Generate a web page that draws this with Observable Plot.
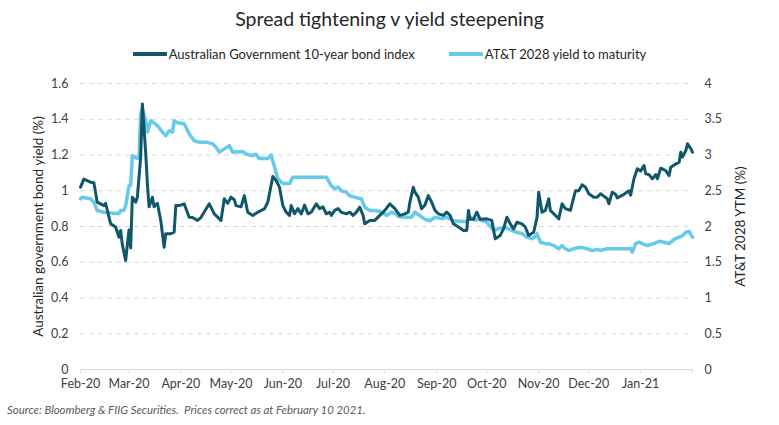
<!DOCTYPE html>
<html>
<head>
<meta charset="utf-8">
<script src="https://cdn.jsdelivr.net/npm/d3@7"></script>
<script src="https://cdn.jsdelivr.net/npm/@observablehq/plot@0.6"></script>
<style>
  body { margin: 0; background: #fff; font-family: Lato, "Open Sans", sans-serif; }
  #wrap { width: 779px; }
  .title { height: 38px; line-height: 38px; text-align: center; font-size: 19.5px; color: #262626; }
  .legend { height: 32px; display: flex; justify-content: center; align-items: center; font-size: 13px; color: #262626; gap: 0; }
  .legend .item { display: flex; align-items: center; margin: 0 17px; }
  .legend svg { margin-right: 2px; }
  .caption { height: 22px; line-height: 22px; font-size: 11.4px; font-style: italic; color: #595959; padding-left: 7px; }
</style>
</head>
<body>
<div id="wrap">
  <div class="title">Spread tightening v yield steepening</div>
  <div class="legend" id="legend"></div>
  <div id="chart"></div>
  <div class="caption">Source: Bloomberg &amp; FIIG Securities.&nbsp; Prices correct as at February 10 2021.</div>
</div>
<script>
// ---- data ----
const SERIES_NAMES = ["Australian Government 10-year bond index", "AT&T 2028 yield to maturity"];
const AXIS_TITLES = ["Australian government bond yield (%)", "AT&T 2028 YTM (%)"];
const SERIES_COLORS = ["#115769", "#67c9ec"];

const AU_DATES = ["2020-02-01","2020-02-03","2020-02-07","2020-02-09","2020-02-11","2020-02-15","2020-02-16","2020-02-19","2020-02-22","2020-02-24","2020-02-25","2020-02-26","2020-02-28",
"2020-03-01","2020-03-02","2020-03-03","2020-03-05","2020-03-06","2020-03-08","2020-03-09","2020-03-11","2020-03-12","2020-03-13","2020-03-15","2020-03-16","2020-03-18","2020-03-20","2020-03-22","2020-03-23","2020-03-26","2020-03-28","2020-03-29","2020-03-31",
"2020-04-03","2020-04-06","2020-04-08","2020-04-11","2020-04-13","2020-04-18","2020-04-21","2020-04-25","2020-04-27","2020-04-29",
"2020-05-01","2020-05-03","2020-05-04","2020-05-07","2020-05-09","2020-05-11","2020-05-14","2020-05-17","2020-05-21","2020-05-23","2020-05-26","2020-05-28","2020-05-30",
"2020-06-01","2020-06-03","2020-06-05","2020-06-06","2020-06-08","2020-06-10","2020-06-12","2020-06-14","2020-06-16","2020-06-18","2020-06-21","2020-06-23","2020-06-25","2020-06-27","2020-06-29","2020-06-30",
"2020-07-02","2020-07-04","2020-07-06","2020-07-09","2020-07-11","2020-07-13","2020-07-15","2020-07-17","2020-07-19","2020-07-20","2020-07-23","2020-07-26","2020-07-29",
"2020-08-01","2020-08-04","2020-08-07","2020-08-10","2020-08-13","2020-08-15","2020-08-16","2020-08-18","2020-08-19","2020-08-21","2020-08-23","2020-08-25","2020-08-27","2020-08-29","2020-08-31",
"2020-09-02","2020-09-05","2020-09-07","2020-09-09","2020-09-11","2020-09-14","2020-09-17","2020-09-19","2020-09-20","2020-09-21","2020-09-23","2020-09-25","2020-09-27",
"2020-10-01","2020-10-04","2020-10-06","2020-10-09","2020-10-11","2020-10-13","2020-10-15","2020-10-17","2020-10-19","2020-10-22","2020-10-24","2020-10-26","2020-10-29","2020-10-31",
"2020-11-01","2020-11-03","2020-11-05","2020-11-07","2020-11-08","2020-11-11","2020-11-13","2020-11-15","2020-11-17","2020-11-20","2020-11-23","2020-11-25","2020-11-27","2020-11-29",
"2020-12-01","2020-12-04","2020-12-06","2020-12-08","2020-12-10","2020-12-12","2020-12-13","2020-12-15","2020-12-17","2020-12-18","2020-12-20","2020-12-22","2020-12-25","2020-12-26","2020-12-28","2020-12-30",
"2021-01-01","2021-01-03","2021-01-04","2021-01-06","2021-01-08","2021-01-10","2021-01-11","2021-01-13","2021-01-16","2021-01-18","2021-01-19","2021-01-22","2021-01-24","2021-01-25","2021-01-26","2021-01-28","2021-01-29","2021-01-31","2021-02-01"];
const AU_YIELD = [1.02,1.065,1.048,1.045,0.936,0.917,0.93,0.816,0.797,0.74,0.778,0.70,0.61,
0.78,0.68,0.964,0.936,0.964,1.19,1.486,1.21,1.04,0.91,0.964,0.91,0.93,0.834,0.684,0.76,0.76,0.768,0.917,0.917,
0.927,0.852,0.85,0.834,0.85,0.927,0.871,0.834,0.955,0.93,
0.964,0.95,0.917,0.91,0.973,0.88,0.862,0.88,0.899,0.936,1.08,1.057,1.02,
0.917,0.88,0.862,0.917,0.871,0.9,0.87,0.92,0.871,0.88,0.927,0.9,0.91,0.871,0.88,0.862,
0.89,0.9,0.88,0.871,0.88,0.862,0.88,0.908,0.862,0.815,0.834,0.834,0.862,
0.89,0.927,0.9,0.862,0.871,0.88,0.936,1.02,0.992,0.964,0.899,0.92,0.973,0.936,0.89,
0.871,0.862,0.88,0.862,0.815,0.797,0.778,0.778,0.89,0.84,0.84,0.88,0.84,
0.843,0.834,0.731,0.75,0.787,0.852,0.815,0.787,0.824,0.815,0.797,0.75,0.768,0.85,
0.992,0.88,0.89,0.955,0.89,0.862,0.843,0.927,0.9,0.89,1.0,1.0,1.033,1.02,
0.983,0.964,0.964,0.983,0.97,0.955,0.927,0.992,0.98,0.96,0.97,0.98,1.0,0.975,1.067,1.123,
1.11,1.141,1.095,1.09,1.067,1.09,1.067,1.126,1.113,1.085,1.132,1.15,1.16,1.216,1.188,1.225,1.263,1.235,1.216];

const ATT_DATES = ["2020-02-01","2020-02-02","2020-02-07","2020-02-09","2020-02-11","2020-02-15","2020-02-19","2020-02-24","2020-02-25","2020-02-27","2020-02-28",
"2020-03-01","2020-03-02","2020-03-03","2020-03-06","2020-03-07","2020-03-08","2020-03-09","2020-03-11","2020-03-12","2020-03-14","2020-03-18","2020-03-21","2020-03-23","2020-03-25","2020-03-27","2020-03-28","2020-03-30",
"2020-04-03","2020-04-06","2020-04-09","2020-04-12","2020-04-16","2020-04-20","2020-04-22","2020-04-24","2020-04-27","2020-04-30",
"2020-05-02","2020-05-08","2020-05-10","2020-05-13","2020-05-16","2020-05-18","2020-05-23","2020-05-25","2020-05-29",
"2020-06-01","2020-06-05","2020-06-07","2020-06-27","2020-06-30",
"2020-07-02","2020-07-04","2020-07-06","2020-07-09","2020-07-11","2020-07-14","2020-07-18","2020-07-20","2020-07-23","2020-07-27","2020-07-31",
"2020-08-02","2020-08-05","2020-08-08","2020-08-09","2020-08-13","2020-08-17","2020-08-19","2020-08-22","2020-08-25","2020-08-28","2020-08-31",
"2020-09-04","2020-09-07","2020-09-11","2020-09-16","2020-09-19","2020-09-21","2020-09-24","2020-09-26",
"2020-10-01","2020-10-05","2020-10-09","2020-10-12","2020-10-16","2020-10-19","2020-10-22","2020-10-25","2020-10-28","2020-10-30","2020-10-31",
"2020-11-02","2020-11-05","2020-11-07","2020-11-10","2020-11-13","2020-11-15","2020-11-17","2020-11-19","2020-11-22","2020-11-26","2020-11-30",
"2020-12-03","2020-12-06","2020-12-08","2020-12-12","2020-12-26","2020-12-27","2020-12-29","2020-12-31",
"2021-01-02","2021-01-05","2021-01-09","2021-01-12","2021-01-15","2021-01-18","2021-01-21","2021-01-24","2021-01-26","2021-01-28","2021-01-30","2021-02-01"];
const ATT_YTM = [2.387,2.41,2.387,2.34,2.224,2.2,2.19,2.178,2.224,2.224,2.29,
2.57,2.57,2.99,2.95,2.96,3.576,3.646,3.48,3.32,3.48,3.41,3.32,3.27,3.34,3.32,3.48,3.45,
3.436,3.296,3.2,3.18,3.18,3.156,3.11,3.04,3.086,3.13,
3.04,3.05,3.016,2.99,3.01,2.95,2.95,3.0,2.667,
2.6,2.6,2.69,2.69,2.57,
2.53,2.55,2.50,2.48,2.43,2.41,2.387,2.27,2.224,2.224,2.19,
2.154,2.2,2.17,2.14,2.13,2.13,2.2,2.15,2.1,2.08,2.13,
2.11,2.13,2.08,2.07,2.07,2.13,2.09,2.1,
2.06,1.944,1.976,1.99,1.944,1.92,1.9,1.85,1.83,1.86,1.9,
1.78,1.76,1.76,1.734,1.69,1.734,1.69,1.664,1.69,1.71,1.69,
1.664,1.68,1.664,1.69,1.69,1.64,1.76,1.78,
1.76,1.734,1.76,1.794,1.78,1.76,1.82,1.85,1.87,1.92,1.93,1.85];

const LEFT_TICKS = [0, 0.2, 0.4, 0.6, 0.8, 1, 1.2, 1.4, 1.6];
const RIGHT_TICKS = [0, 0.5, 1, 1.5, 2, 2.5, 3, 3.5, 4];
const MONTH_TICKS = ["2020-02-01","2020-03-01","2020-04-01","2020-05-01","2020-06-01","2020-07-01","2020-08-01","2020-09-01","2020-10-01","2020-11-01","2020-12-01","2021-01-01","2021-02-01"];
const MONTH_LABELS = ["Feb-20","Mar-20","Apr-20","May-20","Jun-20","Jul-20","Aug-20","Sep-20","Oct-20","Nov-20","Dec-20","Jan-21",""];

// ---- build ----
const ratio = LEFT_TICKS[LEFT_TICKS.length - 1] / RIGHT_TICKS[RIGHT_TICKS.length - 1];
const au = AU_DATES.map((d, i) => ({date: new Date(d), v: AU_YIELD[i]}));
const att = ATT_DATES.map((d, i) => ({date: new Date(d), v: ATT_YTM[i] * ratio}));
const monthDates = MONTH_TICKS.map(d => new Date(d));
const labelFor = new Map(monthDates.map((d, i) => [+d, MONTH_LABELS[i]]));

const fmt = d3.format("~g");
const chart = Plot.plot({
  width: 779,
  height: 329,
  marginTop: 13,
  marginBottom: 30,
  marginLeft: 80,
  marginRight: 87,
  style: {fontFamily: "Lato, 'Open Sans', sans-serif", fontSize: "12.5px", color: "#404040", background: "#fff", overflow: "visible"},
  x: {type: "utc", domain: [monthDates[0], monthDates[monthDates.length - 1]]},
  y: {domain: [0, 1.6]},
  marks: [
    Plot.ruleY(LEFT_TICKS.filter(t => t > 0), {stroke: "#d9d9d9", strokeDasharray: "5,4"}),
    Plot.ruleY([0], {stroke: "#d9d9d9"}),
    Plot.axisX(monthDates, {tickSize: 4, stroke: "#d9d9d9", tickFormat: () => ""}),
    Plot.axisX(monthDates, {tickSize: 0, tickPadding: 10, tickFormat: d => labelFor.get(+d), fill: "#404040", label: null}),
    Plot.axisY(LEFT_TICKS, {anchor: "left", tickSize: 0, tickPadding: 12, tickFormat: d => fmt(d), fill: "#404040", label: null}),
    Plot.axisY(RIGHT_TICKS.map(v => v * ratio), {anchor: "right", tickSize: 0, tickPadding: 12, tickFormat: d => fmt(Math.round(d / ratio * 10) / 10), fill: "#404040", label: null}),
    Plot.text([AXIS_TITLES[0]], {frameAnchor: "left", textAnchor: "middle", text: d => d, rotate: -90, dx: -42, fontSize: 13.5, fill: "#262626"}),
    Plot.text([AXIS_TITLES[1]], {frameAnchor: "right", textAnchor: "middle", text: d => d, rotate: -90, dx: 48, fontSize: 13.5, fill: "#262626"}),
    Plot.line(att, {x: "date", y: "v", stroke: SERIES_COLORS[1], strokeWidth: 3.5, strokeLinejoin: "round"}),
    Plot.line(au, {x: "date", y: "v", stroke: SERIES_COLORS[0], strokeWidth: 3, strokeLinejoin: "round"})
  ]
});
document.getElementById("chart").appendChild(chart);

// legend
const legend = document.getElementById("legend");
SERIES_NAMES.forEach((name, i) => {
  const item = document.createElement("div");
  item.className = "item";
  item.innerHTML = `<svg width="34" height="8"><line x1="1" y1="4" x2="33" y2="4" stroke="${SERIES_COLORS[i]}" stroke-width="4" stroke-linecap="round"/></svg><span></span>`;
  item.querySelector("span").textContent = name;
  legend.appendChild(item);
});
</script>
</body>
</html>
